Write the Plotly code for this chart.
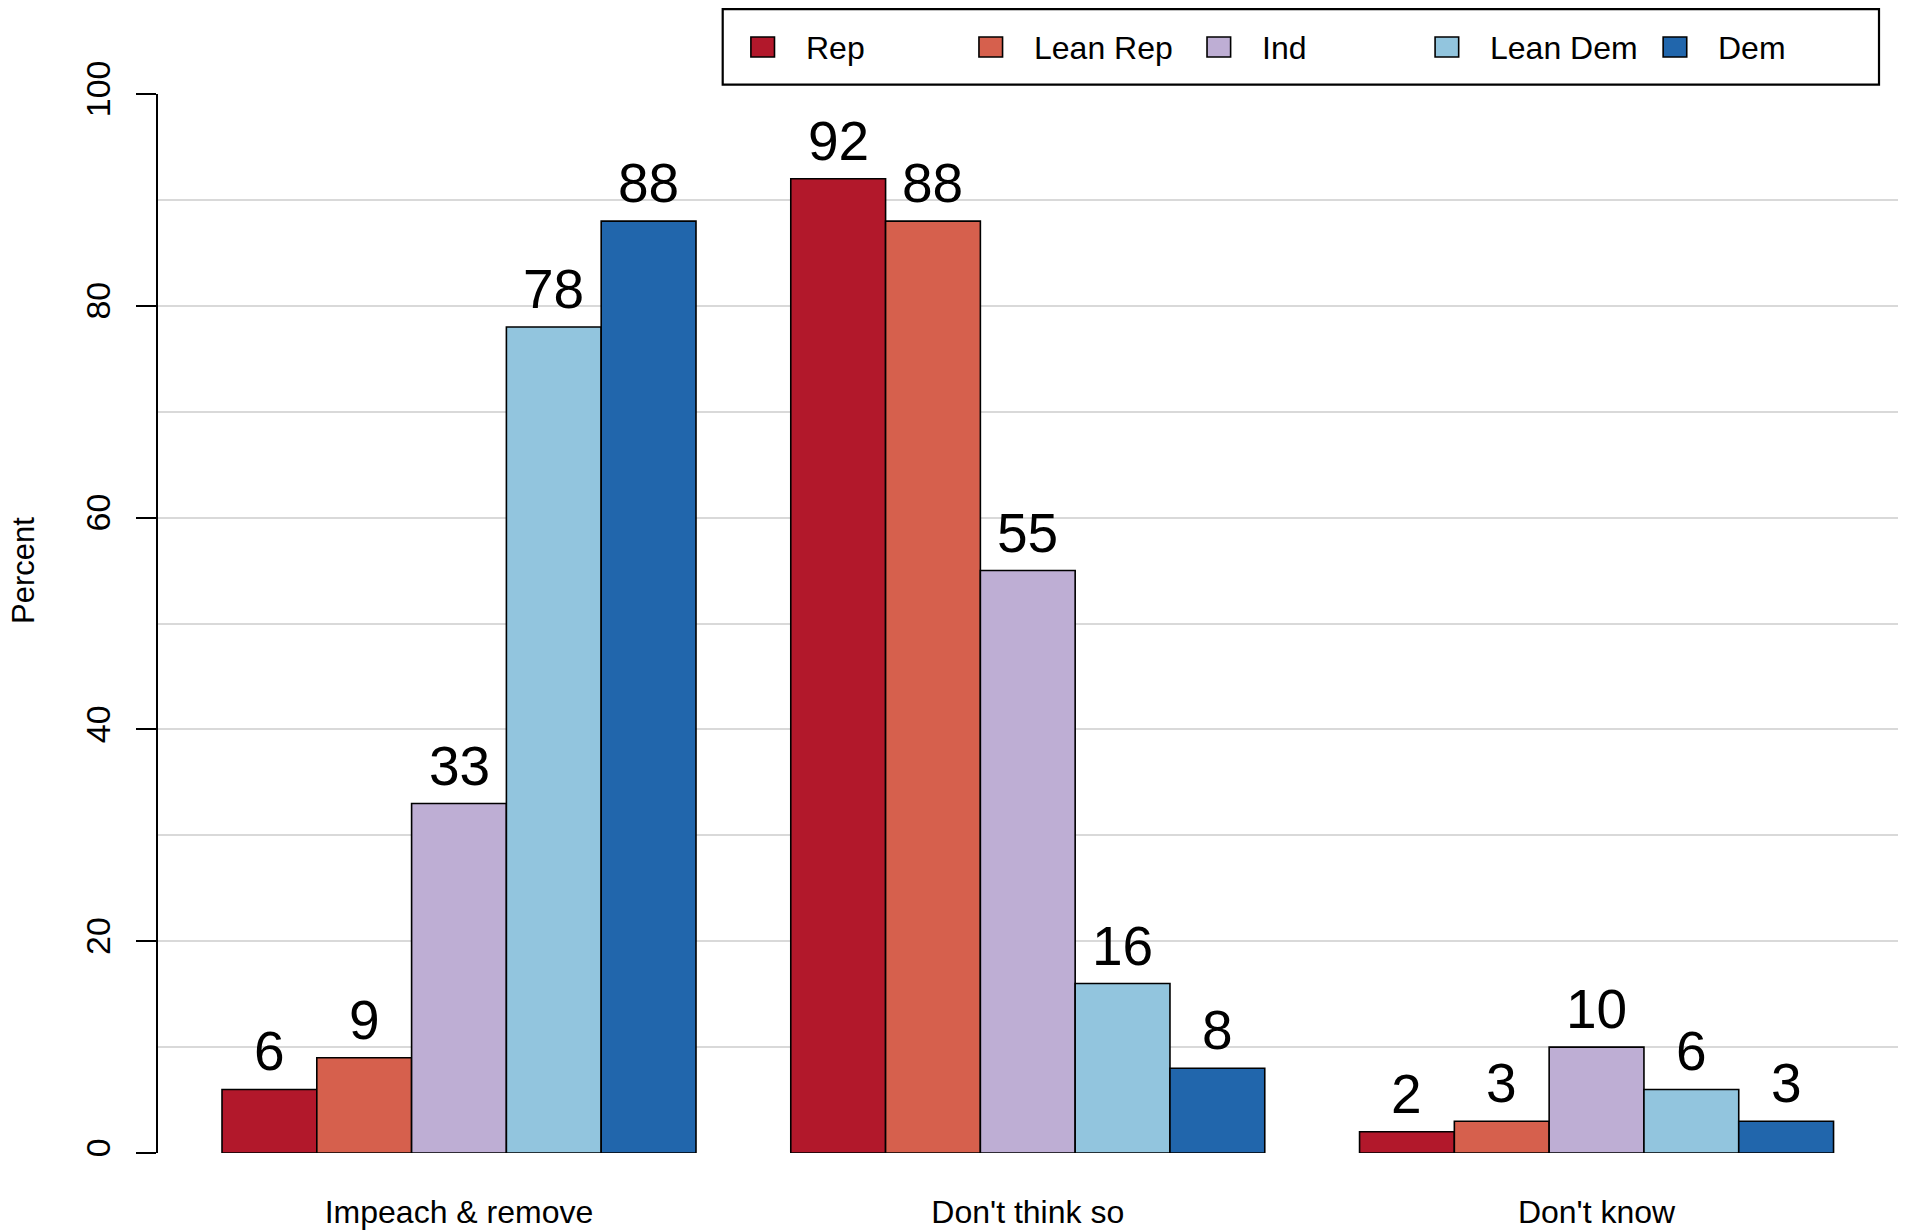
import plotly.graph_objects as go

# ---- data ----
categories = ["Impeach &amp; remove", "Don't think so", "Don't know"]
series_names = ["Rep", "Lean Rep", "Ind", "Lean Dem", "Dem"]
rep = [6, 92, 2]
lean_rep = [9, 88, 3]
ind = [33, 55, 10]
lean_dem = [78, 16, 6]
dem = [88, 8, 3]
series_values = [rep, lean_rep, ind, lean_dem, dem]
colors = ["#B2182B", "#D6604D", "#BEAED4", "#92C5DE", "#2166AC"]
y_ticks = [0, 20, 40, 60, 80, 100]

W, H = 1905, 1230
FONT = "Liberation Sans, Arial, Helvetica, sans-serif"

# plot-area geometry (pixels)
L, R, T, B = 157.7, 1898.0, 94.3, 1153.4
X_RANGE = [-0.5292, 2.53]
BAR_PX = (R - L) / (X_RANGE[1] - X_RANGE[0]) / 6.0


def px_x(px):
    return (px - L) / (R - L)


def px_y(py):
    return (B - py) / (B - T)


fig = go.Figure()
annotations = []
n = len(series_names)
for i, (name, vals, col) in enumerate(zip(series_names, series_values, colors)):
    fig.add_trace(go.Bar(
        name=name, x=categories, y=vals,
        marker=dict(color=col, line=dict(color="black", width=1.6)),
        showlegend=False, hoverinfo="skip",
    ))
    for cat, v in zip(categories, vals):
        annotations.append(dict(
            x=cat, y=v, xref="x", yref="y", text=str(v), showarrow=False,
            xanchor="center", yanchor="bottom",
            xshift=(i - (n - 1) / 2) * BAR_PX, yshift=5,
            font=dict(size=55, color="black", family=FONT)))

# manual legend (R-style box)
shapes = [dict(type="rect", xref="paper", yref="paper",
               x0=px_x(722.5), x1=px_x(1879), y0=px_y(85), y1=px_y(9.5),
               line=dict(color="black", width=2.2), fillcolor="white", layer="above")]
for i, (name, col) in enumerate(zip(series_names, colors)):
    sx = 750.7 + i * 228.1
    shapes.append(dict(type="rect", xref="paper", yref="paper",
                       x0=px_x(sx), x1=px_x(sx + 23.6), y0=px_y(57.3), y1=px_y(37.3),
                       line=dict(color="black", width=1.6), fillcolor=col, layer="above"))
    annotations.append(dict(xref="paper", yref="paper", x=px_x(sx + 53.3), y=px_y(48),
                            text=name, showarrow=False, xanchor="left", yanchor="middle",
                            font=dict(size=32, color="black", family=FONT)))

annotations.append(dict(xref="paper", yref="paper", x=px_x(23), y=px_y(571),
                        text="Percent", textangle=-90, showarrow=False,
                        xanchor="center", yanchor="middle",
                        font=dict(size=31, color="black", family=FONT)))

fig.update_layout(
    width=W, height=H,
    margin=dict(l=L, r=W - R, t=T, b=H - B, pad=0),
    paper_bgcolor="white", plot_bgcolor="white",
    barmode="group", bargap=1 / 6, bargroupgap=0,
    font=dict(family=FONT, color="black"),
    shapes=shapes, annotations=annotations,
    xaxis=dict(range=X_RANGE, showline=False, showgrid=False, zeroline=False,
               ticks="", tickfont=dict(size=32, family=FONT, color="black"),
               ticklabelstandoff=37, automargin=False),
    yaxis=dict(range=[0, 100], tickvals=y_ticks, ticktext=[str(v) for v in y_ticks],
               tickangle=-90, ticks="outside", ticklen=20, tickwidth=2, tickcolor="black",
               showline=True, linecolor="black", linewidth=2,
               showgrid=True, gridcolor="#D9D9D9", gridwidth=1.6, zeroline=False,
               tickfont=dict(size=34, family=FONT, color="black"),
               ticklabelstandoff=12, automargin=False,
               minor=dict(dtick=10, tick0=0, showgrid=True, gridcolor="#D9D9D9",
                          gridwidth=1.6, ticks="")),
)

fig.write_html("out.html", config={"displayModeBar": False},
               post_script="document.body.style.margin='0';")
